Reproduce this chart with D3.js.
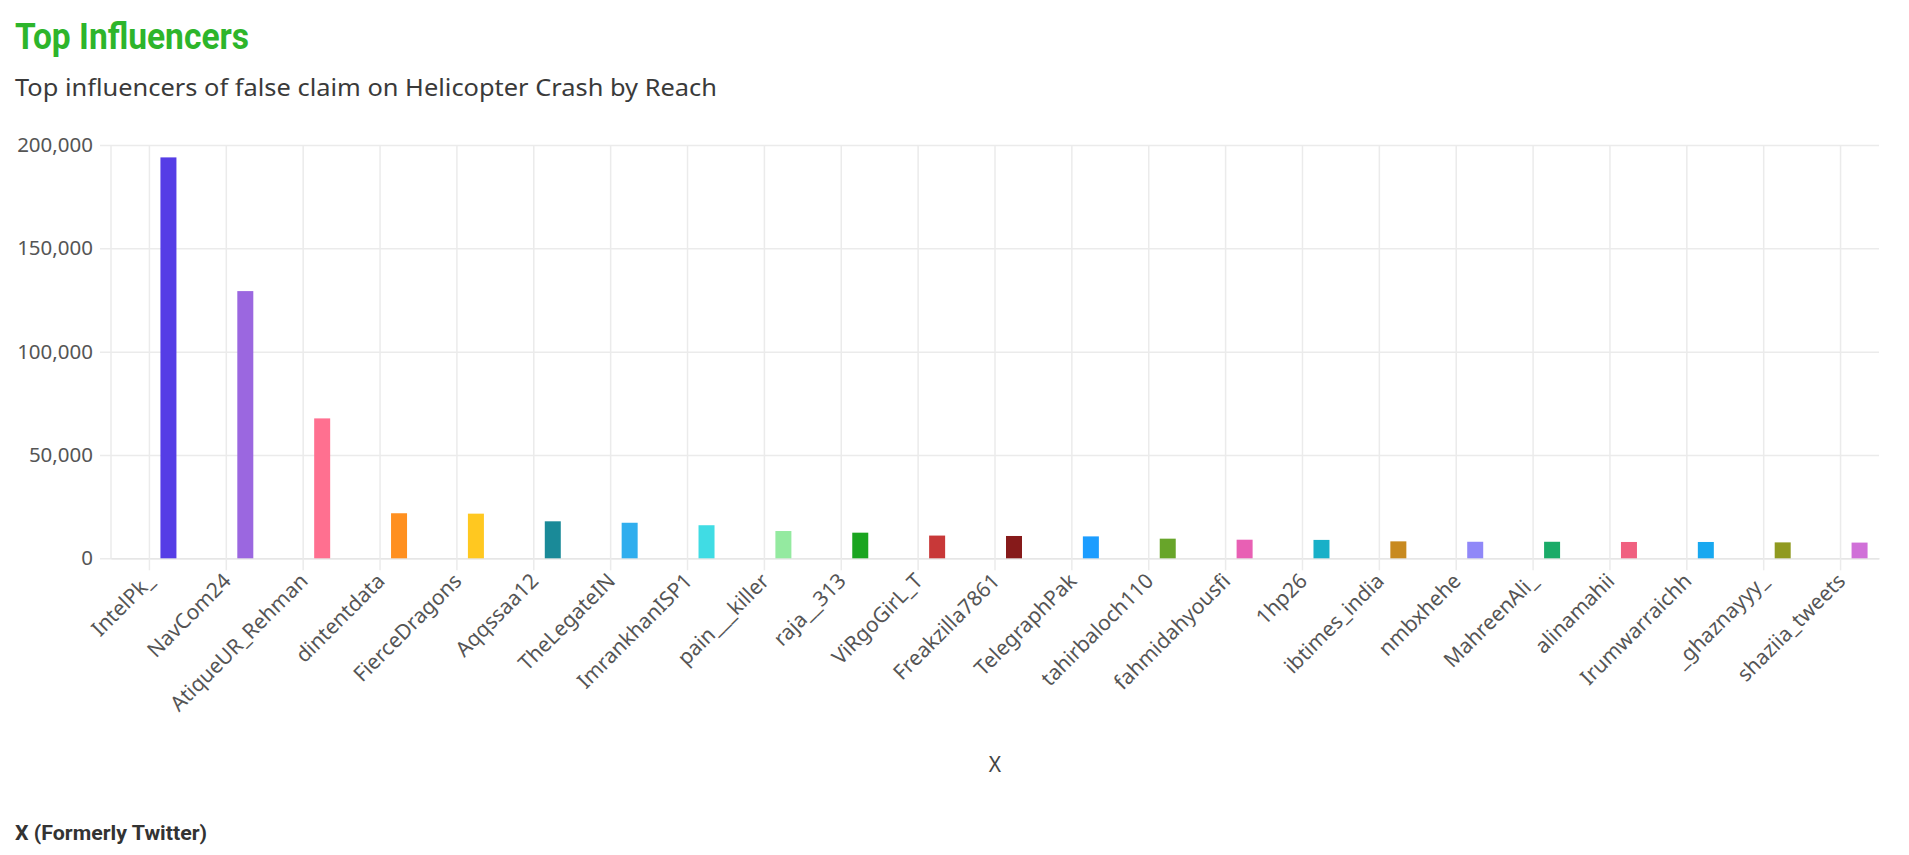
<!DOCTYPE html>
<html>
<head>
<meta charset="utf-8">
<script src="https://cdn.jsdelivr.net/npm/d3@7/dist/d3.min.js"></script>
<style>
  html, body { margin: 0; padding: 0; background: #fff; }
  svg { display: block; }
</style>
</head>
<body>
<svg id="chart" width="1909" height="855"></svg>
<script>
const categories = ["IntelPk_", "NavCom24", "AtiqueUR_Rehman", "dintentdata", "FierceDragons", "Aqqssaa12",
  "TheLegateIN", "ImrankhanISP1", "pain___killer", "raja__313", "ViRgoGirL_T", "Freakzilla7861",
  "TelegraphPak", "tahirbaloch110", "fahmidahyousfi", "1hp26", "ibtimes_india", "nmbxhehe",
  "MahreenAli_", "alinamahii", "Irumwarraichh", "_ghaznayyy_", "shaziia_tweets"];
const reach = [194000, 129300, 67700, 21800, 21600, 17900, 17200, 16000, 13200, 12400, 11000, 10800,
  10600, 9500, 9000, 8900, 8200, 8000, 8000, 7900, 7900, 7700, 7600];
const colors = ["#553de6", "#9b67e0", "#ff7090", "#ff9020", "#ffc820", "#1a8a98", "#30aeee", "#40dce4",
  "#94eaa0", "#1aa520", "#c83838", "#861a1a", "#1c9dff", "#68a52a", "#e860b4", "#18b0c8", "#c88a20",
  "#9088f8", "#1aab68", "#f06080", "#18a8f0", "#909a20", "#d070d8"];
const yTicks = [0, 50000, 100000, 150000, 200000];

const title = "Top Influencers";
const subtitle = "Top influencers of false claim on Helicopter Crash by Reach";
const xAxisTitle = "X";
const footer = "X (Formerly Twitter)";

const svg = d3.select("#chart");
const pL = 111, pR = 1879, pT = 145, pB = 558.3;

const x = d3.scaleBand().domain(categories).range([pL, pR]);
const slot = d3.scaleBand().domain([0, 1, 2]).range([-27, 27]).paddingInner(0.158);
const y = d3.scaleLinear().domain([0, 200000]).range([pB, pT]);

// Titles
svg.append("text").attr("x", 15).attr("y", 49)
  .attr("font-family", "Roboto").attr("font-weight", 700).attr("font-size", 37)
  .attr("fill", "#2db52b").attr("textLength", 234).attr("lengthAdjust", "spacingAndGlyphs")
  .text(title);
svg.append("text").attr("x", 15).attr("y", 96)
  .attr("font-family", "Noto Sans").attr("font-size", 23)
  .attr("fill", "#3a3a3a").attr("textLength", 702).attr("lengthAdjust", "spacingAndGlyphs")
  .text(subtitle);

// Y grid + labels
const yAxis = d3.axisLeft(y).tickValues(yTicks).tickSize(pR - pL + 11)
  .tickFormat(d3.format(","));
const gy = svg.append("g").attr("transform", `translate(${pR},0)`).call(yAxis);
gy.select(".domain").remove();
gy.selectAll(".tick line").attr("stroke", "#ebebeb").attr("stroke-width", 1.5);
gy.selectAll(".tick text").attr("x", -(pR - pL + 11) - 7)
  .attr("font-family", "Noto Sans").attr("font-size", 20.5).attr("fill", "#555");

// X vertical grid lines at category centers
const xAxis = d3.axisBottom(x).tickSize(-(pB - pT)).tickFormat("");
const gxg = svg.append("g").attr("transform", `translate(0,${pB})`).call(xAxis);
gxg.select(".domain").remove();
gxg.selectAll(".tick line").attr("stroke", "#ebebeb").attr("stroke-width", 1.5);

// Left plot border line
svg.append("line").attr("x1", pL).attr("x2", pL).attr("y1", pT).attr("y2", pB)
  .attr("stroke", "#ebebeb").attr("stroke-width", 1.5);

// X axis ticks and labels
const xAxis2 = d3.axisBottom(x).tickSize(12).tickSizeOuter(0);
const gx = svg.append("g").attr("transform", `translate(0,${pB})`).call(xAxis2);
gx.select(".domain").attr("stroke", "#e6e6e6").attr("stroke-width", 1.5);
gx.selectAll(".tick line").attr("stroke", "#ebebeb").attr("stroke-width", 1.5);
gx.selectAll(".tick text")
  .attr("font-family", "Noto Sans").attr("font-size", 21).attr("fill", "#555")
  .attr("text-anchor", "end").attr("dy", null).attr("y", null)
  .attr("transform", "translate(6,24) rotate(-45)");

// Bars
svg.append("g").selectAll("rect").data(categories).join("rect")
  .attr("x", (d) => x(d) + x.bandwidth() / 2 + slot(2))
  .attr("width", slot.bandwidth())
  .attr("y", (d, i) => y(reach[i]))
  .attr("height", (d, i) => y(0) - y(reach[i]))
  .attr("fill", (d, i) => colors[i]);

// Axis title
svg.append("text").attr("x", (pL + pR) / 2).attr("y", 772).attr("text-anchor", "middle")
  .attr("font-family", "Noto Sans").attr("font-size", 21).attr("fill", "#444")
  .text(xAxisTitle);

// Footer
svg.append("text").attr("x", 15).attr("y", 840)
  .attr("font-family", "Roboto").attr("font-weight", 700).attr("font-size", 21)
  .attr("fill", "#333").attr("textLength", 192).attr("lengthAdjust", "spacingAndGlyphs")
  .text(footer);
</script>
</body>
</html>
